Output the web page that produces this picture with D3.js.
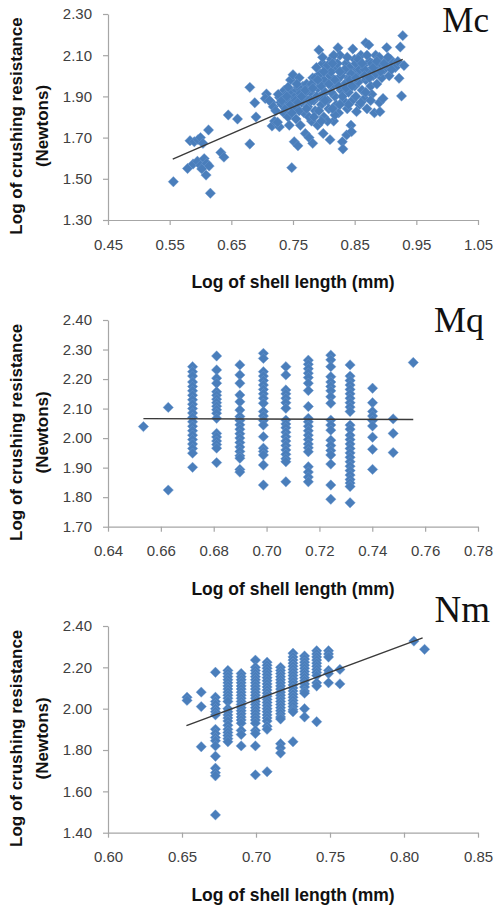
<!DOCTYPE html>
<html>
<head>
<meta charset="utf-8">
<script src="https://cdn.jsdelivr.net/npm/d3@7"></script>
<style>
  html, body { margin: 0; padding: 0; background: #fff; }
  svg { display: block; }
</style>
</head>
<body>
<svg id="chart" width="497" height="910"></svg>
<script>
// ---------------- DATA ----------------
// Panel Mc : free scatter [log length, log crushing resistance]
const mcPoints = [
  [0.556,1.486],[0.579,1.550],[0.583,1.685],[0.590,1.680],[0.596,1.690],[0.600,1.700],[0.604,1.672],[0.613,1.737],
  [0.588,1.572],[0.595,1.585],[0.600,1.565],[0.606,1.598],[0.610,1.575],[0.602,1.548],[0.614,1.562],[0.609,1.518],
  [0.616,1.430],[0.633,1.628],[0.638,1.605],[0.645,1.810],[0.660,1.790],[0.680,1.944],[0.680,1.669],[0.688,1.869],
  [0.690,1.800],[0.707,1.912],[0.716,1.756],[0.705,1.890],[0.715,1.870],[0.720,1.780],[0.728,1.752],[0.735,1.820],
  [0.712,1.880],[0.718,1.850],[0.722,1.830],[0.725,1.775],[0.728,1.895],[0.730,1.870],[0.732,1.860],[0.734,1.900],
  [0.736,1.930],[0.738,1.840],[0.740,1.880],[0.742,1.800],[0.744,1.760],[0.746,1.980],[0.748,1.554],[0.748,1.920],
  [0.750,1.860],[0.750,2.005],[0.752,1.680],[0.754,1.840],[0.755,1.790],[0.756,1.930],[0.758,1.660],[0.760,1.990],
  [0.760,1.900],[0.762,1.760],[0.764,1.870],[0.766,1.950],[0.768,1.820],[0.770,1.890],[0.770,1.720],[0.772,1.960],
  [0.774,1.850],[0.776,1.700],[0.778,1.920],[0.780,1.780],[0.782,1.672],[0.782,1.990],[0.784,1.880],[0.786,1.830],
  [0.788,2.040],[0.790,1.940],[0.790,1.760],[0.792,2.125],[0.794,1.900],[0.796,1.860],[0.798,2.060],[0.799,1.720],
  [0.800,1.980],[0.800,1.800],[0.802,1.920],[0.804,2.030],[0.806,1.880],[0.808,1.840],[0.810,1.690],[0.810,2.000],
  [0.812,2.080],[0.814,1.950],[0.816,1.780],[0.818,1.900],[0.820,2.040],[0.820,1.860],[0.822,1.980],[0.823,2.136],
  [0.824,1.820],[0.826,2.100],[0.828,1.930],[0.830,1.680],[0.830,2.020],[0.831,1.645],[0.832,1.880],[0.834,1.960],
  [0.836,2.060],[0.837,1.713],[0.838,1.840],[0.840,1.990],[0.840,1.920],[0.842,2.040],[0.844,1.760],[0.845,1.729],
  [0.846,1.880],[0.847,2.130],[0.848,2.000],[0.850,1.950],[0.850,2.080],[0.852,1.900],[0.853,1.826],[0.854,2.030],
  [0.856,1.970],[0.858,1.860],[0.860,2.010],[0.860,2.100],[0.862,1.930],[0.864,2.050],[0.866,1.890],[0.868,2.160],
  [0.868,1.980],[0.870,1.840],[0.872,2.020],[0.873,2.150],[0.874,2.070],[0.876,1.950],[0.878,1.910],[0.880,2.000],
  [0.882,1.820],[0.884,2.100],[0.886,1.960],[0.888,2.040],[0.890,1.870],[0.891,1.826],[0.892,2.060],[0.894,1.990],
  [0.896,1.890],[0.898,2.030],[0.900,2.070],[0.902,2.137],[0.904,2.050],[0.906,2.000],[0.908,2.080],[0.912,2.060],
  [0.916,2.040],[0.920,2.070],[0.922,1.988],[0.924,2.140],[0.926,1.902],[0.928,2.195],[0.930,2.050],
  [0.738,1.905],[0.744,1.870],[0.752,1.895],[0.758,1.945],[0.762,1.915],[0.766,1.880],[0.772,1.925],[0.780,1.960],
  [0.786,1.990],[0.794,2.010],[0.798,2.090],[0.806,2.050],[0.812,2.020],[0.816,2.100],[0.822,2.060],[0.828,2.000],
  [0.834,2.030],[0.838,2.090],[0.844,2.010],[0.852,2.060],[0.858,2.030],[0.866,2.030],[0.870,2.100],[0.878,2.060],
  [0.884,2.010],[0.890,2.090],[0.742,1.945],[0.760,1.830],[0.776,1.800],[0.792,1.830],[0.806,1.780],[0.818,1.810],
  [0.726,1.910],[0.732,1.880],[0.740,1.900],[0.746,1.860],[0.754,1.880],[0.758,1.870],[0.764,1.900],[0.770,1.930],
  [0.776,1.880],[0.782,1.940],[0.788,1.900],[0.796,1.950],[0.802,1.880],[0.808,1.960],[0.812,1.920],[0.818,1.980],
  [0.824,1.950],[0.830,1.900],[0.836,1.940],[0.842,1.980],[0.846,1.950],[0.852,1.990],[0.856,2.080],[0.862,2.060],
  [0.866,2.000],[0.874,1.990],[0.880,2.040],[0.886,2.070],[0.892,2.020],[0.898,2.060],[0.904,2.090],[0.910,2.030],
  [0.826,2.020],[0.814,2.060],[0.800,2.020],[0.790,1.980],[0.780,1.880],[0.772,1.840],[0.784,1.800],[0.796,1.780],
  [0.860,1.870],[0.868,1.920],[0.876,1.880],[0.840,1.860],[0.826,1.860],[0.814,1.840],[0.748,1.820],[0.756,1.960]
];
const mcXTicks = [0.45,0.55,0.65,0.75,0.85,0.95,1.05];
const mcYTicks = [1.30,1.50,1.70,1.90,2.10,2.30];
const mcTrendX = [0.555,0.928];
const mcTrendY = [1.595,2.080];

// Panel Mq : columns of repeated lengths
const mqColX = [0.6534,0.6628,0.6720,0.6811,0.6899,0.6988,0.7073,0.7158,0.7243,0.7316,0.7401,0.7479,0.7555];
const mqColY = [
  [2.039],
  [2.104,1.824],
  [2.242,2.225,2.21,2.19,2.175,2.16,2.145,2.13,2.115,2.10,2.085,2.07,2.055,2.04,2.025,2.01,1.995,1.98,1.965,1.949,1.901],
  [2.278,2.231,2.203,2.186,2.157,2.145,2.132,2.12,2.108,2.096,2.084,2.067,2.016,2.004,1.99,1.978,1.966,1.917],
  [2.248,2.214,2.186,2.146,2.123,2.095,2.073,2.06,2.045,2.03,2.015,2.0,1.985,1.97,1.955,1.94,1.932,1.894,1.885],
  [2.287,2.27,2.225,2.21,2.195,2.18,2.165,2.15,2.135,2.118,2.09,2.075,2.06,2.044,2.005,1.966,1.955,1.943,1.909,1.841],
  [2.242,2.214,2.163,2.15,2.135,2.12,2.101,2.061,2.048,2.035,2.02,2.005,1.99,1.975,1.96,1.945,1.93,1.92,1.852],
  [2.264,2.25,2.235,2.22,2.205,2.186,2.161,2.107,2.067,2.055,2.04,2.025,2.01,1.995,1.98,1.967,1.954,1.903,1.885,1.868,1.852],
  [2.281,2.265,2.242,2.208,2.19,2.175,2.16,2.14,2.118,2.061,2.044,2.027,1.993,1.975,1.958,1.943,1.912,1.841,1.793],
  [2.248,2.21,2.195,2.18,2.165,2.15,2.135,2.12,2.105,2.09,2.044,2.03,2.01,1.995,1.98,1.965,1.95,1.935,1.92,1.905,1.89,1.875,1.86,1.848,1.836,1.781],
  [2.169,2.12,2.09,2.075,2.06,2.041,2.003,1.962,1.894],
  [2.065,2.016,1.951],
  [2.256]
];
const mqXTicks = [0.64,0.66,0.68,0.70,0.72,0.74,0.76,0.78];
const mqYTicks = [1.70,1.80,1.90,2.00,2.10,2.20,2.30,2.40];
const mqTrendX = [0.6534,0.7555];
const mqTrendY = [2.066,2.063];

// Panel Nm : columns of repeated lengths
const nmColX = [0.6534,0.6630,0.6726,0.6810,0.6900,0.6996,0.7075,0.7166,0.7250,0.7328,0.7410,0.7490,0.7567,0.8067,0.8139];
const nmColY = [
  [2.055,2.040],
  [2.080,2.010,1.816],
  [2.176,2.055,2.035,2.02,2.0,1.985,1.97,1.90,1.88,1.86,1.845,1.82,1.77,1.712,1.69,1.675,1.486],
  [2.185,2.17,2.155,2.14,2.125,2.11,2.095,2.08,2.065,2.05,2.035,2.0,1.985,1.97,1.955,1.94,1.92,1.90,1.885,1.87,1.855,1.84],
  [2.17,2.155,2.14,2.125,2.11,2.095,2.08,2.065,2.05,2.035,2.02,2.005,1.99,1.975,1.96,1.945,1.93,1.895,1.875,1.82],
  [2.235,2.2,2.185,2.17,2.155,2.14,2.125,2.11,2.095,2.08,2.065,2.05,2.035,2.02,2.005,1.99,1.975,1.96,1.945,1.93,1.895,1.88,1.82,1.68],
  [2.225,2.21,2.195,2.18,2.165,2.15,2.135,2.12,2.105,2.09,2.075,2.06,2.045,2.03,2.015,2.0,1.985,1.97,1.955,1.94,1.915,1.90,1.695],
  [2.20,2.185,2.17,2.155,2.14,2.125,2.11,2.095,2.08,2.065,2.05,2.035,2.02,2.005,1.99,1.975,1.96,1.95,1.83,1.81,1.785],
  [2.268,2.25,2.235,2.22,2.205,2.19,2.175,2.16,2.145,2.13,2.115,2.10,2.085,2.07,2.055,2.04,2.025,2.01,1.995,1.985,1.84],
  [2.255,2.24,2.225,2.21,2.195,2.18,2.165,2.15,2.135,2.12,2.105,2.085,2.075,2.0,1.96],
  [2.28,2.265,2.25,2.235,2.22,2.205,2.19,2.175,2.16,2.125,2.11,1.937],
  [2.28,2.265,2.25,2.185,2.17,2.125],
  [2.19,2.12],
  [2.327],
  [2.287]
];
const nmXTicks = [0.60,0.65,0.70,0.75,0.80,0.85];
const nmYTicks = [1.40,1.60,1.80,2.00,2.20,2.40];
const nmTrendX = [0.653,0.8126];
const nmTrendY = [1.918,2.343];

const panelLabels = ["Mc","Mq","Nm"];
const xTitle = "Log of shell length (mm)";
const yTitle1 = "Log of crushing resistance";
const yTitle2 = "(Newtons)";

// ---------------- DRAW ----------------
const svg = d3.select("#chart");
const fmt = d3.format(".2f");
const markColor = "#4a7ebb";
const axisColor = "#a6a6a6";
const diamond = d3.symbol().type(d3.symbolSquare).size(54);

function colsToPoints(xs, ys) {
  const out = [];
  xs.forEach((x, i) => ys[i].forEach(y => out.push([x, y])));
  return out;
}

function drawPanel(cfg) {
  const g = svg.append("g");
  const x = d3.scaleLinear().domain(d3.extent(cfg.xTicks)).range([cfg.left, cfg.right]);
  const y = d3.scaleLinear().domain(d3.extent(cfg.yTicks)).range([cfg.bottom, cfg.top]);

  const xAxis = g.append("g")
    .attr("transform", `translate(0,${cfg.bottom})`)
    .call(d3.axisBottom(x).tickValues(cfg.xTicks).tickFormat(fmt).tickSizeInner(5).tickSizeOuter(0).tickPadding(14));
  const yAxis = g.append("g")
    .attr("transform", `translate(${cfg.left},0)`)
    .call(d3.axisLeft(y).tickValues(cfg.yTicks).tickFormat(fmt).tickSizeInner(5).tickSizeOuter(0).tickPadding(11));
  [xAxis, yAxis].forEach(a => {
    a.select(".domain").attr("stroke", axisColor).attr("stroke-width", 1.2);
    a.selectAll(".tick line").attr("stroke", axisColor).attr("stroke-width", 1.2);
    a.selectAll(".tick text")
      .attr("fill", "#404040")
      .style("font-family", "'Liberation Sans', Arial, sans-serif")
      .style("font-size", "15px");
  });

  // points
  g.append("g").selectAll("path")
    .data(cfg.points)
    .join("path")
    .attr("d", diamond)
    .attr("transform", d => `translate(${x(d[0])},${y(d[1])}) rotate(45)`)
    .attr("fill", markColor)
    .attr("stroke", "#6f9bd1")
    .attr("stroke-width", 0.4);

  // trend line
  const line = d3.line().x(d => x(d[0])).y(d => y(d[1]));
  g.append("path")
    .datum(cfg.trendX.map((v, i) => [v, cfg.trendY[i]]))
    .attr("d", line)
    .attr("fill", "none")
    .attr("stroke", "#3a3a3a")
    .attr("stroke-width", 1.4);

  // axis titles
  const midX = (cfg.left + cfg.right) / 2;
  const midY = (cfg.top + cfg.bottom) / 2 + 9;
  g.append("text")
    .attr("x", midX).attr("y", cfg.bottom + 68)
    .attr("text-anchor", "middle")
    .style("font-family", "'Liberation Sans', Arial, sans-serif")
    .style("font-weight", "bold")
    .style("font-size", "17.5px")
    .attr("fill", "#111")
    .text(xTitle);
  [[16, yTitle1], [42, yTitle2]].forEach(([tx, t]) => {
    g.append("text")
      .attr("transform", `translate(${tx},${midY}) rotate(-90)`)
      .attr("text-anchor", "middle")
      .attr("dominant-baseline", "central")
      .style("font-family", "'Liberation Sans', Arial, sans-serif")
      .style("font-weight", "bold")
      .style("font-size", "17px")
      .attr("fill", "#111")
      .text(t);
  });

  // panel label
  g.append("text")
    .attr("x", cfg.labelX).attr("y", cfg.labelY)
    .attr("text-anchor", "end")
    .style("font-family", "'Liberation Serif', 'Times New Roman', serif")
    .style("font-size", cfg.labelSize + "px")
    .attr("fill", "#111")
    .text(cfg.label);
}

drawPanel({
  points: mcPoints, xTicks: mcXTicks, yTicks: mcYTicks, trendX: mcTrendX, trendY: mcTrendY,
  left: 108, right: 478, top: 14, bottom: 220,
  label: panelLabels[0], labelX: 489, labelY: 32, labelSize: 35
});
drawPanel({
  points: colsToPoints(mqColX, mqColY), xTicks: mqXTicks, yTicks: mqYTicks, trendX: mqTrendX, trendY: mqTrendY,
  left: 108, right: 478, top: 320, bottom: 526.7,
  label: panelLabels[1], labelX: 484, labelY: 332, labelSize: 36
});
drawPanel({
  points: colsToPoints(nmColX, nmColY), xTicks: nmXTicks, yTicks: nmYTicks, trendX: nmTrendX, trendY: nmTrendY,
  left: 108, right: 478, top: 626, bottom: 832.7,
  label: panelLabels[2], labelX: 490, labelY: 622, labelSize: 37
});
</script>
</body>
</html>
